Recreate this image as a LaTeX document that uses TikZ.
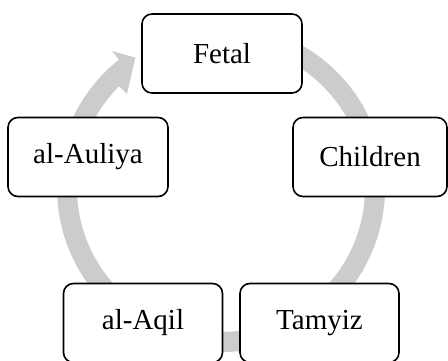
\documentclass[tikz,border=0pt]{standalone}
\usepackage{fontspec}
\setmainfont{Liberation Serif}
\definecolor{ringgray}{RGB}{204,204,204}
\begin{document}
\begin{tikzpicture}[x=1pt,y=1pt,
  stagebox/.style={draw=black, line width=1.6pt, rounded corners=10pt, fill=white,
    minimum height=79pt, inner sep=0pt, font=\fontsize{29}{34}\selectfont}]
\useasboundingbox (0,0) rectangle (448,360);
% ring with arrowhead
\begin{scope}[shift={(221,172)}]
  \fill[ringgray] (112:164pt) arc[start angle=112, end angle=-231.5, radius=164pt]
    -- (128.5:175pt) -- (123.3:156pt) -- (135:133pt) -- (135:144pt)
    arc[start angle=-225, end angle=112, radius=144pt] -- cycle;
\end{scope}
% stages
\node[stagebox, minimum width=160pt] (fetal) at (222,306.5) {Fetal};
\node[stagebox, minimum width=154pt] (children) at (370,203) {Children};
\node[stagebox, minimum width=159pt] (tamyiz) at (319.5,37) {Tamyiz};
\node[stagebox, minimum width=159pt] (aqil) at (143,37) {al-Aqil};
\node[stagebox, minimum width=160pt] (auliya) at (88,203) {al-Auliya};
\end{tikzpicture}
\end{document}
